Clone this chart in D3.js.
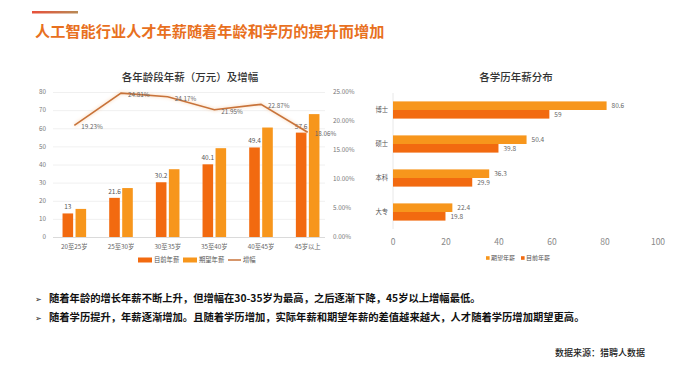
<!DOCTYPE html>
<html><head><meta charset="utf-8">
<script src="https://cdn.jsdelivr.net/npm/d3@7"></script>
<style>
html,body{margin:0;padding:0;background:#fff;}
svg{display:block;font-family:"Noto Sans CJK SC","Noto Sans",sans-serif;}
</style></head>
<body>
<svg id="c" width="700" height="381"></svg>
<script>
// ---- data ----
const ageCats = ["20至25岁","25至30岁","30至35岁","35至40岁","40至45岁","45岁以上"];
const ageCurrent = [13, 21.6, 30.2, 40.1, 49.4, 57.6];
const ageExpected = [15.5, 27, 37.4, 49, 60.4, 67.8];
const ageGrowth = [0.1923, 0.2481, 0.2417, 0.2195, 0.2287, 0.1806];
const ageGrowthLabels = ["19.23%","24.81%","24.17%","21.95%","22.87%","18.06%"];
const leftTicks = [0,10,20,30,40,50,60,70,80];
const rightTicks = [0,0.05,0.10,0.15,0.20,0.25];

const eduCats = ["博士","硕士","本科","大专"];
const eduExpected = [80.6, 50.4, 36.3, 22.4];
const eduCurrent = [59, 39.8, 29.9, 19.8];
const eduTicks = [0,20,40,60,80,100];

const bullets = [
  "随着年龄的增长年薪不断上升，但增幅在30-35岁为最高，之后逐渐下降，45岁以上增幅最低。",
  "随着学历提升，年薪逐渐增加。且随着学历增加，实际年薪和期望年薪的差值越来越大，人才随着学历增加期望更高。"
];

const cCur = "#f26a10", cExp = "#f7961c", cLine = "#c8733a";

const svg = d3.select("#c");
const defs = svg.append("defs");
const g1 = defs.append("linearGradient").attr("id","deco");
g1.append("stop").attr("offset","0%").attr("stop-color","#e8503a");
g1.append("stop").attr("offset","100%").attr("stop-color","#b88a55");
const glow = defs.append("filter").attr("id","glow").attr("x","-10%").attr("y","-50%").attr("width","120%").attr("height","200%");
glow.append("feGaussianBlur").attr("stdDeviation",1.4);

// header
svg.append("rect").attr("x",32).attr("y",11).attr("width",46).attr("height",2.5).attr("fill","url(#deco)");
svg.append("text").attr("x",35).attr("y",37).attr("font-size",15.2).attr("font-weight",700)
  .attr("fill","#e8701e").text("人工智能行业人才年薪随着年龄和学历的提升而增加");

// ---- left chart ----
const x = d3.scaleBand().domain(ageCats).range([51,331]);
const y = d3.scaleLinear().domain([0,80]).range([237,92]);
const yR = d3.scaleLinear().domain([0,0.25]).range([237,92]);
const L = svg.append("g");
L.append("text").attr("x",190).attr("y",81).attr("text-anchor","middle").attr("font-size",10.5)
  .attr("font-weight",500).attr("fill","#333").text("各年龄段年薪（万元）及增幅");

L.selectAll("line.grid").data(leftTicks).join("line").attr("class","grid")
  .attr("x1",53).attr("x2",325).attr("y1",d=>y(d)+0.5).attr("y2",d=>y(d)+0.5)
  .attr("stroke",d=>d===0?"#d0d0d0":"#ececec").attr("stroke-width",0.8);
L.selectAll("text.yl").data(leftTicks).join("text").attr("class","yl")
  .attr("x",46).attr("y",d=>y(d)+2.3).attr("text-anchor","end").attr("font-size",6.3).attr("fill","#777").text(d=>d);
L.selectAll("text.yr").data(rightTicks).join("text").attr("class","yr")
  .attr("x",333).attr("y",d=>yR(d)+2.3).attr("font-size",6.3).attr("fill","#777").text(d=>d3.format(".2%")(d));

const bw = 10.6;
const cx = c => x(c) + x.bandwidth()/2;
L.selectAll("rect.cur").data(ageCats).join("rect").attr("class","cur")
  .attr("x",c=>cx(c)-1.2-bw).attr("width",bw).attr("y",(c,i)=>y(ageCurrent[i])).attr("height",(c,i)=>y(0)-y(ageCurrent[i])).attr("fill",cCur);
L.selectAll("rect.exp").data(ageCats).join("rect").attr("class","exp")
  .attr("x",c=>cx(c)+1.2).attr("width",bw).attr("y",(c,i)=>y(ageExpected[i])).attr("height",(c,i)=>y(0)-y(ageExpected[i])).attr("fill",cExp);
L.selectAll("text.cv").data(ageCats).join("text").attr("class","cv")
  .attr("x",c=>cx(c)-1.2-bw/2).attr("y",(c,i)=>y(ageCurrent[i])-4).attr("text-anchor","middle")
  .attr("font-size",6.5).attr("fill","#555").text((c,i)=>ageCurrent[i]);
L.selectAll("text.xl").data(ageCats).join("text").attr("class","xl")
  .attr("x",c=>cx(c)).attr("y",249).attr("text-anchor","middle").attr("font-size",6.3).attr("fill","#666").text(c=>c);

const line = d3.line().x((d,i)=>cx(ageCats[i])).y(d=>yR(d));
L.append("path").attr("d",line(ageGrowth)).attr("fill","none").attr("stroke","#f9c79a").attr("stroke-width",3.5).attr("opacity",0.4).attr("filter","url(#glow)");
L.append("path").attr("d",line(ageGrowth)).attr("fill","none").attr("stroke",cLine).attr("stroke-width",1.6);
L.selectAll("text.gl").data(ageGrowthLabels).join("text").attr("class","gl")
  .attr("x",(d,i)=>cx(ageCats[i])+7).attr("y",(d,i)=>yR(ageGrowth[i])+4).attr("font-size",6.3).attr("fill","#666").text(d=>d);

// left legend
const lg = L.append("g").attr("transform","translate(0,260)");
lg.append("rect").attr("x",138).attr("y",-2.5).attr("width",14).attr("height",5).attr("fill",cCur);
lg.append("text").attr("x",154).attr("y",2.3).attr("font-size",6.3).attr("fill","#555").text("目前年薪");
lg.append("rect").attr("x",183).attr("y",-2.5).attr("width",14).attr("height",5).attr("fill",cExp);
lg.append("text").attr("x",199).attr("y",2.3).attr("font-size",6.3).attr("fill","#555").text("期望年薪");
lg.append("line").attr("x1",228).attr("x2",241).attr("y1",0).attr("y2",0).attr("stroke",cLine).attr("stroke-width",1.5);
lg.append("text").attr("x",243).attr("y",2.3).attr("font-size",6.3).attr("fill","#555").text("增幅");

// ---- right chart ----
const R = svg.append("g");
const xr = d3.scaleLinear().domain([0,100]).range([393,658]);
const yb = d3.scaleBand().domain(eduCats).range([93,229]);
const bh = 8.6;
const cy = c => yb(c) + yb.bandwidth()/2;
R.append("text").attr("x",516).attr("y",81).attr("text-anchor","middle").attr("font-size",10.5)
  .attr("font-weight",500).attr("fill","#333").text("各学历年薪分布");
R.append("line").attr("x1",393).attr("x2",393).attr("y1",93).attr("y2",229).attr("stroke","#e2e2e2").attr("stroke-width",0.8);
R.selectAll("rect.e").data(eduCats).join("rect").attr("class","e")
  .attr("x",xr(0)).attr("y",c=>cy(c)-bh).attr("height",bh).attr("width",(c,i)=>xr(eduExpected[i])-xr(0)).attr("fill",cExp);
R.selectAll("rect.c").data(eduCats).join("rect").attr("class","c")
  .attr("x",xr(0)).attr("y",c=>cy(c)).attr("height",bh).attr("width",(c,i)=>xr(eduCurrent[i])-xr(0)).attr("fill",cCur);
R.selectAll("text.ev").data(eduCats).join("text").attr("class","ev")
  .attr("x",(c,i)=>xr(eduExpected[i])+5).attr("y",c=>cy(c)-bh/2+2.3).attr("font-size",6.5).attr("fill","#666").text((c,i)=>eduExpected[i]);
R.selectAll("text.cvv").data(eduCats).join("text").attr("class","cvv")
  .attr("x",(c,i)=>xr(eduCurrent[i])+5).attr("y",c=>cy(c)+bh/2+2.3).attr("font-size",6.5).attr("fill","#666").text((c,i)=>eduCurrent[i]);
R.selectAll("text.cl").data(eduCats).join("text").attr("class","cl")
  .attr("x",388).attr("y",c=>cy(c)+2.3).attr("text-anchor","end").attr("font-size",6.3).attr("fill","#555").text(c=>c);
R.selectAll("text.xt").data(eduTicks).join("text").attr("class","xt")
  .attr("x",d=>xr(d)).attr("y",245).attr("text-anchor","middle").attr("font-size",8.5).attr("fill","#888").text(d=>d);
const rg = R.append("g").attr("transform","translate(0,258)");
rg.append("rect").attr("x",486).attr("y",-1.8).attr("width",3.6).attr("height",3.6).attr("fill",cExp);
rg.append("text").attr("x",491).attr("y",2.2).attr("font-size",6).attr("fill","#555").text("期望年薪");
rg.append("rect").attr("x",521).attr("y",-1.8).attr("width",3.6).attr("height",3.6).attr("fill",cCur);
rg.append("text").attr("x",526).attr("y",2.2).attr("font-size",6).attr("fill","#555").text("目前年薪");

// ---- bullets ----
bullets.forEach((t,i)=>{
  const yy = 302 + i*19;
  svg.append("text").attr("x",35).attr("y",yy).attr("font-size",8).attr("fill","#222").attr("font-family","DejaVu Sans").text("➢");
  svg.append("text").attr("x",49).attr("y",yy).attr("font-size",10.3).attr("font-weight",700).attr("fill","#111").text(t);
});
svg.append("text").attr("x",645).attr("y",356).attr("text-anchor","end").attr("font-size",9).attr("font-weight",500).attr("fill","#222").text("数据来源：猎聘人数据");
</script>
</body></html>
